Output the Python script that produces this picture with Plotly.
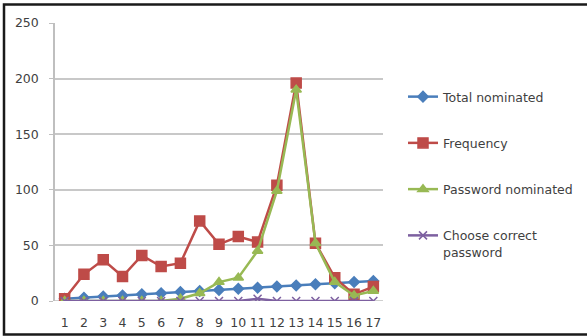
import plotly.graph_objects as go

# Categories and series values
categories = [str(i) for i in range(1, 18)]
total_nominated = [2, 3, 4, 5, 6, 7, 8, 9, 10, 11, 12, 13, 14, 15, 16, 17, 18]
frequency = [2, 24, 37, 22, 41, 31, 34, 72, 51, 58, 53, 104, 196, 52, 21, 6, 13]
password_nominated = [0, 0, 0, 0, 0, 0, 2, 7, 17, 21, 45, 99, 190, 52, 17, 5, 9]
choose_correct = [0, 0, 0, 0, 0, 0, 0, 0, 0, 0, 2, 0, 0, 0, 0, 0, 0]
y_ticks = [0, 50, 100, 150, 200, 250]

W, H = 587, 336
M = dict(l=55, r=204, t=23, b=35)
FONT = "DejaVu Sans, Liberation Sans, sans-serif"
TXT = "#3f3f3f"

series = [
    ("Total nominated", total_nominated, "#4A7EBB", "diamond", 8),
    ("Frequency", frequency, "#BE4B48", "square", 10),
    ("Password nominated", password_nominated, "#98B954", "triangle-up", 9),
    ("Choose correct<br>password", choose_correct, "#7D60A0", "x-thin-open", 8),
]

fig = go.Figure()
for name, vals, color, sym, size in series:
    fig.add_trace(go.Scatter(
        x=categories, y=vals, name=name, mode="lines+markers",
        legendgroup=name,
        line=dict(color=color, width=2.5),
        marker=dict(color=color, symbol=sym, size=size,
                    line=dict(color=color, width=1.5)),
    ))

pw = W - M["l"] - M["r"]
ph = H - M["t"] - M["b"]

fig.update_layout(
    width=W, height=H,
    margin=dict(M, autoexpand=False),
    paper_bgcolor="white", plot_bgcolor="white",
    font=dict(family=FONT, size=12.5, color=TXT),
    showlegend=True,
    legend=dict(x=(403 - M["l"]) / pw, xanchor="left",
                y=(H - M["b"] - 82) / ph, yanchor="top",
                tracegroupgap=27, itemwidth=30, valign="top",
                font=dict(family=FONT, size=12.5, color=TXT)),
    xaxis=dict(type="category", range=[-0.5, 16.5], showgrid=False,
               showline=False, ticks="", automargin=False,
               tickfont=dict(family=FONT, size=12.5, color=TXT),
               ticklabelstandoff=12),
    yaxis=dict(range=[0, 250], tickvals=y_ticks, showgrid=True,
               gridcolor="#C8C8C8", gridwidth=1.5, zeroline=False,
               showline=True, linecolor="#BFBFBF", linewidth=1.5,
               ticks="outside", ticklen=4, tickcolor="#BFBFBF",
               ticklabelstandoff=8, automargin=False,
               tickfont=dict(family=FONT, size=12.5, color=TXT)),
    shapes=[
        # baseline at zero
        dict(type="line", xref="paper", yref="y", x0=0, x1=1, y0=0, y1=0,
             line=dict(color="#BFBFBF", width=1.5), layer="below"),
        # outer frame around the whole figure
        dict(type="rect", xref="paper", yref="paper",
             x0=(4 - M["l"]) / pw, x1=(W + 6 - M["l"]) / pw,
             y0=-(M["b"] - 1.5) / ph,
             y1=1 + (M["t"] - 4.5) / ph,
             line=dict(color="#1a1a1a", width=2.5)),
    ],
)

fig.write_html("out.html")
